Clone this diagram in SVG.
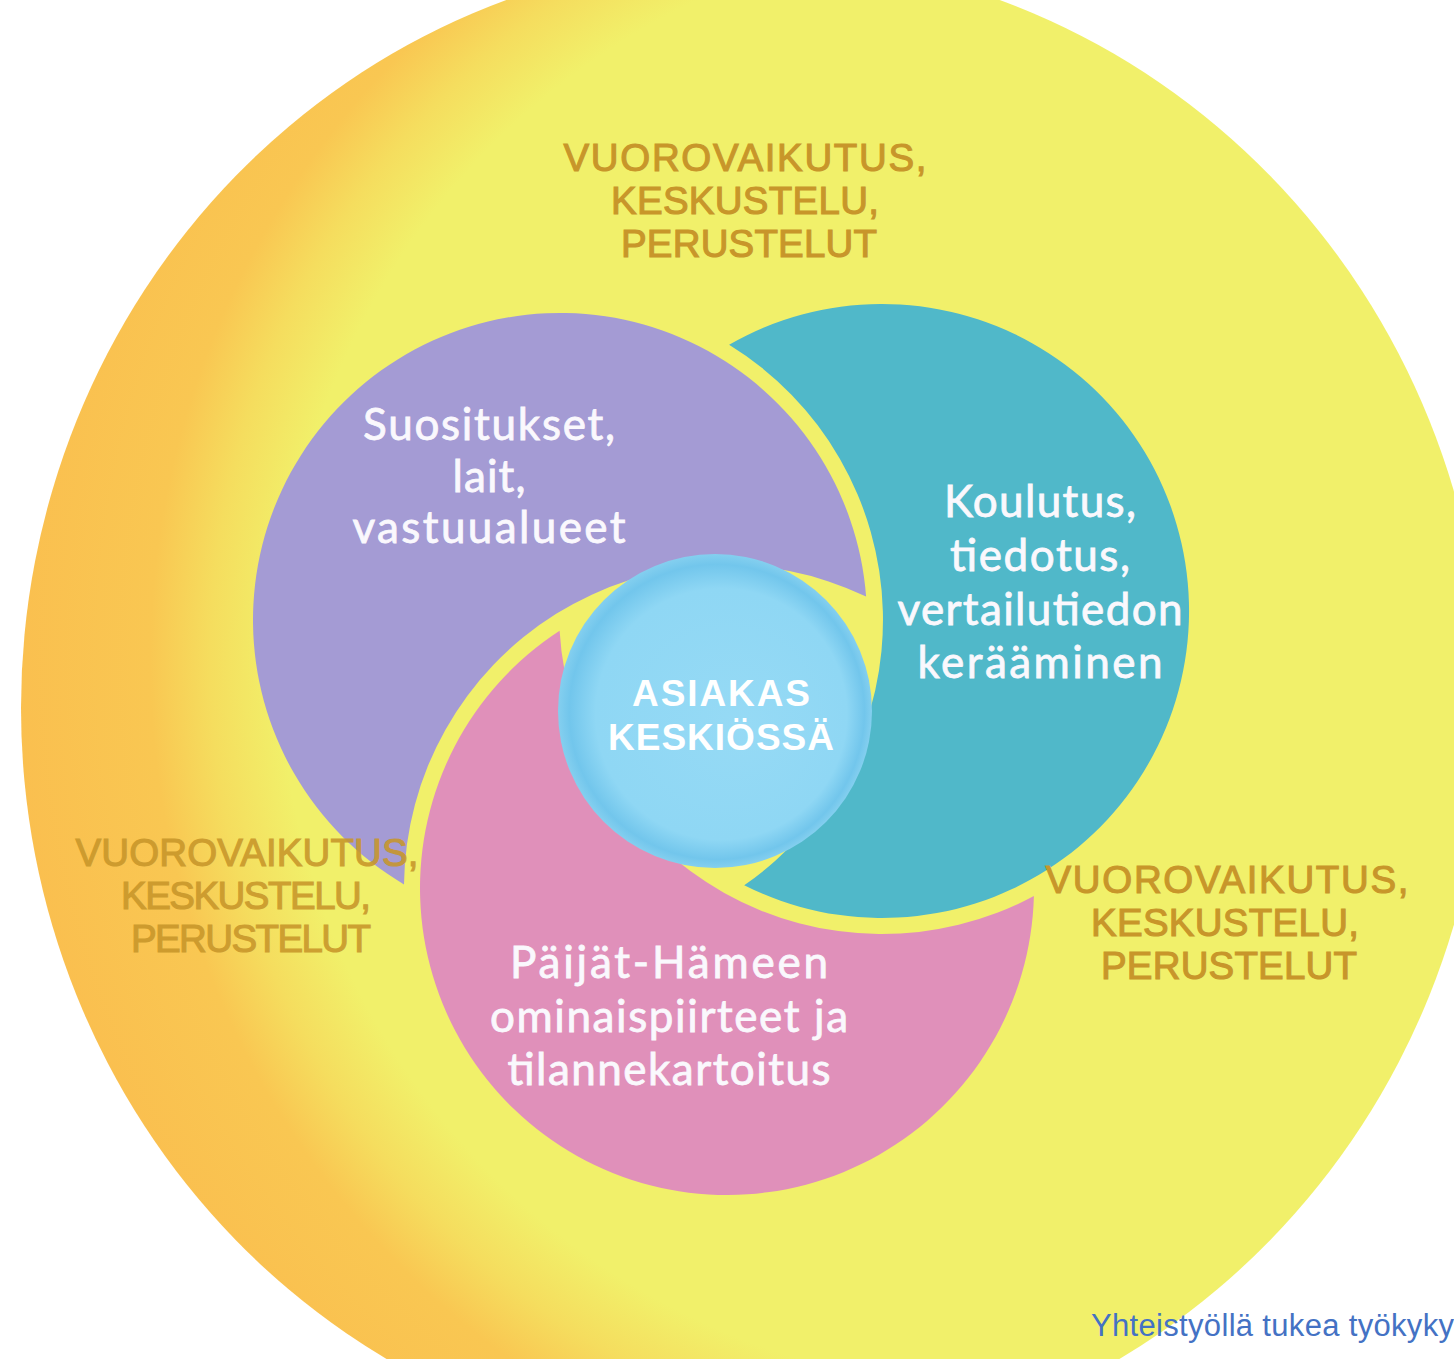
<svg xmlns="http://www.w3.org/2000/svg" width="1454" height="1359" viewBox="0 0 1454 1359">
  <style>
    .cap { font-family: "Liberation Sans", Arial, sans-serif; font-size: 38.5px; fill: #C8962A; stroke: #C8962A; stroke-width: 1.1px; text-anchor: middle; }
    .pet { font-family: Lato, "Liberation Sans", sans-serif; font-size: 44px; fill: #FAF8FD; stroke: #FAF8FD; stroke-width: 0.8px; text-anchor: middle; }
    .ctr { font-family: "Liberation Sans", Arial, sans-serif; font-weight: 700; font-size: 37px; fill: #FFFFFF; text-anchor: middle; }
    .foot { font-family: "Liberation Sans", Arial, sans-serif; font-size: 31px; fill: #4472C4; }
  </style>
  <defs>
    <radialGradient id="gOuter" gradientUnits="userSpaceOnUse" cx="1010" cy="660" r="1000">
      <stop offset="0" stop-color="#F1F06A"/>
      <stop offset="0.73" stop-color="#F1F06A"/>
      <stop offset="0.80" stop-color="#F5DD5E"/>
      <stop offset="0.86" stop-color="#F9C752"/>
      <stop offset="1" stop-color="#FABF4F"/>
    </radialGradient>
    <radialGradient id="gCenter" cx="0.5" cy="0.5" r="0.5" fx="0.6" fy="0.55">
      <stop offset="0" stop-color="#96DAF5"/>
      <stop offset="0.8" stop-color="#8FD7F4"/>
      <stop offset="0.94" stop-color="#72C6EC"/>
      <stop offset="1" stop-color="#84CFEF"/>
    </radialGradient>
  </defs>

  <rect width="1454" height="1359" fill="#FFFFFF"/>

  <g id="outer">
    <ellipse cx="753" cy="708" rx="732" ry="752" fill="url(#gOuter)"/>
  </g>

  <g id="petal-purple">
    <path d="M 404,884.4 A 307 307 0 1 1 866.1,596.5 A 323 323 0 0 0 404,884.4 Z" fill="#A49BD4"/>
  </g>
  <g id="petal-teal">
    <path d="M 729.1,344.8 A 307 307 0 1 1 744.2,885.3 A 323 323 0 0 0 729.1,344.8 Z" fill="#50B8C9"/>
  </g>
  <g id="petal-pink">
    <path d="M 1033.9,896.1 A 307 307 0 1 1 559.6,630.7 A 323 323 0 0 0 1033.9,896.1 Z" fill="#E090BA"/>
  </g>

  <g id="center">
    <circle cx="715" cy="711" r="157" fill="url(#gCenter)"/>
    <text class="ctr" x="721" y="706" textLength="178">ASIAKAS</text>
    <text class="ctr" x="721" y="750" textLength="226">KESKIÖSSÄ</text>
  </g>

  <g id="label-purple">
    <text class="pet" x="489" y="440" textLength="252">Suositukset,</text>
    <text class="pet" x="489" y="492" textLength="73">lait,</text>
    <text class="pet" x="489" y="543" textLength="273">vastuualueet</text>
  </g>
  <g id="label-teal">
    <text class="pet" x="1040" y="517" textLength="192">Koulutus,</text>
    <text class="pet" x="1040" y="571" textLength="180">tiedotus,</text>
    <text class="pet" x="1040" y="625" textLength="285">vertailutiedon</text>
    <text class="pet" x="1040" y="678" textLength="245">kerääminen</text>
  </g>
  <g id="label-pink">
    <text class="pet" x="669" y="978" textLength="318">Päijät-Hämeen</text>
    <text class="pet" x="669" y="1032" textLength="358">ominaispiirteet ja</text>
    <text class="pet" x="669" y="1085" textLength="323">tilannekartoitus</text>
  </g>

  <g id="interaction-top">
    <text class="cap" x="745" y="171" textLength="363">VUOROVAIKUTUS,</text>
    <text class="cap" x="745" y="214" textLength="268">KESKUSTELU,</text>
    <text class="cap" x="749" y="257" textLength="256">PERUSTELUT</text>
  </g>
  <g id="interaction-left" opacity="0.88">
    <text class="cap" x="247" y="866" textLength="343">VUOROVAIKUTUS,</text>
    <text class="cap" x="246" y="909" textLength="250">KESKUSTELU,</text>
    <text class="cap" x="251" y="952" textLength="240">PERUSTELUT</text>
  </g>
  <g id="interaction-right">
    <text class="cap" x="1227" y="893" textLength="363">VUOROVAIKUTUS,</text>
    <text class="cap" x="1225" y="936" textLength="268">KESKUSTELU,</text>
    <text class="cap" x="1229" y="979" textLength="256">PERUSTELUT</text>
  </g>

  <g id="connectors"/>

  <text class="foot" x="1091" y="1336" textLength="363">Yhteistyöllä tukea työkyky</text>
</svg>
